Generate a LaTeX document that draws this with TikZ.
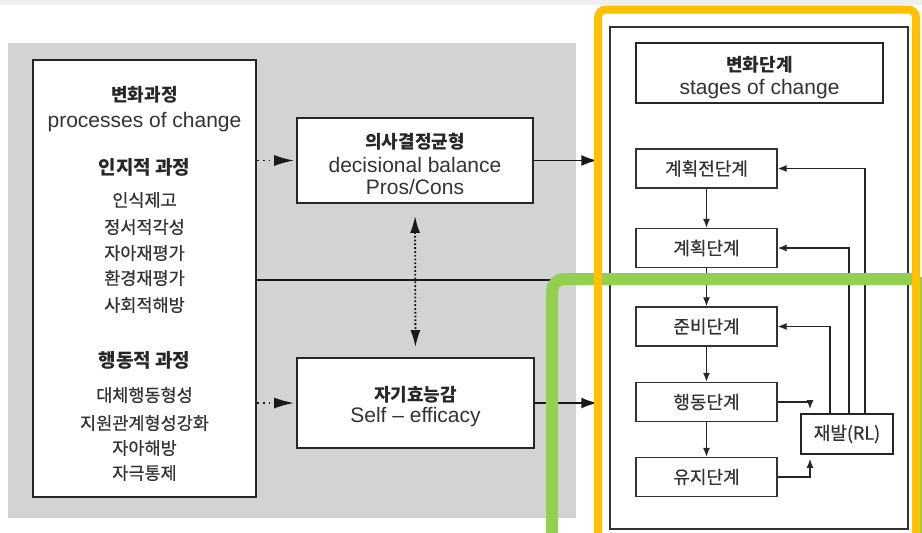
\documentclass[tikz,border=0pt]{standalone}
\usepackage{fontspec}
\setmainfont{Liberation Sans}
\newfontfamily\kr{Noto Sans CJK KR}[FakeBold=0.6]
\newfontfamily\krB{Noto Sans CJK KR}
\usetikzlibrary{arrows.meta}
\definecolor{panelgray}{HTML}{D3D3D3}
\definecolor{topgray}{HTML}{EFEFEF}
\definecolor{hlgreen}{HTML}{92D050}
\definecolor{hlyellow}{HTML}{FFC000}
\begin{document}
\begin{tikzpicture}[x=1pt,y=-1pt,
  box/.style={draw=black!85, line width=1.8, fill=white, inner sep=0},
  sbox/.style={draw=black!80, line width=1.4, fill=white, minimum width=141, minimum height=39, inner sep=0},
  kr/.style={font=\kr\fontsize{17.5}{20}\selectfont, text=black!80, inner sep=0},
  krs/.style={font=\kr\fontsize{18}{20}\selectfont, text=black!80, inner sep=0},
  krb/.style={font=\krB\bfseries\fontsize{18}{20}\selectfont, text=black!85, inner sep=0},
  krbb/.style={font=\krB\bfseries\fontsize{19}{20}\selectfont, text=black!85, inner sep=0},
  lat/.style={font=\fontsize{21}{24}\selectfont, text=black!80, inner sep=0},
  arr/.style={line width=1.8, draw=black!90, -{Latex[length=16,width=11]}},
  darr/.style={line width=1.8, draw=black!90, loosely dotted, -{Latex[length=20,width=11]}},
  ddarr/.style={line width=1.8, draw=black!90, dotted, {Latex[length=17,width=10]}-{Latex[length=17,width=10]}},
  sarr/.style={line width=1.3, draw=black!85, -{Latex[length=9,width=7]}}
]
\useasboundingbox (0,0) rectangle (922,533);
\clip (0,0) rectangle (922,533);
\fill[white] (0,0) rectangle (922,533);
\fill[topgray] (0,0) rectangle (922,5);
% gray panel
\fill[panelgray] (8,43) rectangle (576,518);

% left box
\node[box, minimum width=223, minimum height=437] (left) at (144.5,278.5) {};
\node[krb] (t1) at (144.5,95) {변화과정};
\node[lat] (t2) at (144.5,122) {processes of change};
\node[krbb] (t3) at (144.5,167) {인지적 과정};
\node[kr] (t4) at (144.5,200) {인식제고};
\node[kr] (t5) at (144.5,227) {정서적각성};
\node[kr] (t6) at (144.5,253) {자아재평가};
\node[kr] (t7) at (144.5,278) {환경재평가};
\node[kr] (t8) at (144.5,305) {사회적해방};
\node[krbb] (t9) at (144.5,360) {행동적 과정};
\node[kr] (t10) at (144.5,395) {대체행동형성};
\node[kr] (t11) at (144.5,423) {지원관계형성강화};
\node[kr] (t12) at (144.5,448) {자아해방};
\node[kr] (t13) at (144.5,473) {자극통제};

% decisional balance
\node[box, minimum width=236, minimum height=85] (dec) at (415,160.5) {};
\node[krb] (d1) at (415,142) {의사결정균형};
\node[lat] (d2) at (415,165) {decisional balance};
\node[lat] (d3) at (415,187) {Pros/Cons};

% self efficacy
\node[box, minimum width=237, minimum height=90] (self) at (415.5,403) {};
\node[krb] (s1) at (415.5,395) {자기효능감};
\node[lat] (s2) at (415.5,417) {Self -- efficacy};

% stages panel
\node[draw=black!80, line width=1.5, fill=white, minimum width=298, minimum height=502, inner sep=0] (stages) at (759,278) {};
\node[draw=black!85, line width=2.4, fill=white, minimum width=247, minimum height=60, inner sep=0] (head) at (759.5,73) {};
\node[krb] (h1) at (759.5,65) {변화단계};
\node[lat] (h2) at (759.5,89) {stages of change};

\node[sbox] (pre) at (706.5,168.5) {};
\node[krs] (pret) at (pre) {계획전단계};
\node[sbox] (con) at (706.5,248) {};
\node[krs] (cont) at (con) {계획단계};
\node[sbox] (prep) at (706.5,326.5) {};
\node[krs] (prept) at (prep) {준비단계};
\node[sbox] (act) at (706.5,402) {};
\node[krs] (actt) at (act) {행동단계};
\node[sbox] (main) at (706.5,477) {};
\node[krs] (maint) at (main) {유지단계};
\node[draw=black!85, line width=1.8, fill=white, minimum width=92, minimum height=40, inner sep=0] (rl) at (847,434) {};
\node[krs] (rlt) at (rl) {재발(RL)};

% stage arrows
\draw[sarr] (pre.south) -- (con.north);
\draw[sarr] (con.south) -- (prep.north);
\draw[sarr] (prep.south) -- (act.north);
\draw[sarr] (act.south) -- (main.north);
\draw[sarr, shorten >=4] (act.east) -| ([xshift=-37]rl.north);
\draw[sarr, shorten >=4] (main.east) -| ([xshift=-37]rl.south);
\draw[sarr] ([xshift=-17]rl.north) |- (prep.east);
\draw[sarr] ([xshift=2]rl.north) |- (con.east);
\draw[sarr] ([xshift=18]rl.north) |- (pre.east);

% main arrows
\draw[darr, shorten >=2] (left.east |- dec.west) -- (dec.west);
\draw[darr, shorten >=2] (left.east |- self.west) -- (self.west);
\draw[ddarr, shorten <=12, shorten >=10] (dec.south) -- (self.north);
\draw[arr, shorten >=12] (dec.east) -- (dec.east -| stages.west);
\draw[arr, shorten >=12] (self.east) -- (self.east -| stages.west);
\draw[arr, shorten >=12] ([yshift=-1.5]left.east) -- ([yshift=-1.5]left.east -| stages.west);

% highlight frames
\draw[hlgreen, line width=12, rounded corners=12] (552,560) -- (552,279) -- (922,279) -- (922,560);
\draw[hlyellow, line width=8, rounded corners=8] (598,560) -- (598,9.5) -- (916,9.5) -- (916,560);
\end{tikzpicture}
\end{document}
